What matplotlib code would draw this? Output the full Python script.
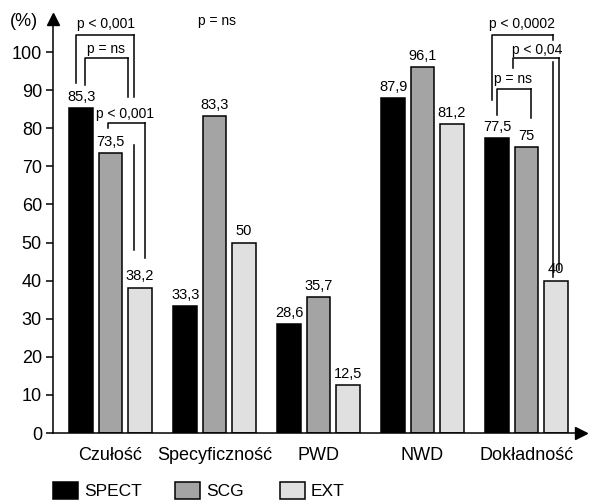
import matplotlib.pyplot as plt
from matplotlib.patches import Rectangle

plt.rcParams['font.family'] = ['Liberation Sans', 'DejaVu Sans']

categories = ['Czułość', 'Specyficzność', 'PWD', 'NWD', 'Dokładność']
series_names = ['SPECT', 'SCG', 'EXT']
spect = [85.3, 33.3, 28.6, 87.9, 77.5]
scg = [73.5, 83.3, 35.7, 96.1, 75]
ext = [38.2, 50, 12.5, 81.2, 40]
colors = ['#000000', '#a4a4a4', '#e0e0e0']

# significance brackets: x left, x right, top, left leg end, right leg end, gap on right leg
brackets = [
    (-0.330, 0.226, 104.5, 91.9, 48.0, (88.2, 75.6)),
    (-0.245, 0.168, 98.4, 91.3, 88.2, None),
    (-0.024, 0.332, 81.4, 80.0, 45.9, None),
    (3.671, 4.252, 104.5, 87.4, 40.9, (103.1, 97.4)),
    (3.867, 4.315, 98.4, 95.8, 42.8, None),
    (3.719, 4.040, 90.3, 83.5, 82.7, None),
]
p_labels = [
    (-0.043, 106.3, 'p < 0,001'),
    (-0.043, 99.7, 'p = ns'),
    (0.135, 82.7, 'p < 0,001'),
    (1.02, 107.1, 'p = ns'),
    (3.957, 106.3, 'p < 0,0002'),
    (4.106, 99.5, 'p < 0,04'),
    (3.870, 91.9, 'p = ns'),
]

fig = plt.figure(figsize=(5.9, 5.04), dpi=100)
ax = fig.add_axes([53 / 590, 71 / 504, 528 / 590, 414 / 504])

step = 0.28
width = 0.23
for j, vals in enumerate([spect, scg, ext]):
    xs = [i + (j - 1) * step for i in range(len(categories))]
    ax.bar(xs, vals, width=width, color=colors[j], edgecolor='black', linewidth=1.1, zorder=2)
    for x, v in zip(xs, vals):
        ax.annotate(f"{v:g}".replace('.', ','), (x, v), xytext=(0, 3), textcoords='offset points',
                    ha='center', va='bottom', fontsize=10.5)

for xl, xr, top, yl, yr, gap in brackets:
    ax.plot([xl, xl, xr], [yl, top, top], color='black', lw=1.1, clip_on=False)
    if gap is None:
        ax.plot([xr, xr], [top, yr], color='black', lw=1.1, clip_on=False)
    else:
        ax.plot([xr, xr], [top, gap[0]], color='black', lw=1.1, clip_on=False)
        ax.plot([xr, xr], [gap[1], yr], color='black', lw=1.1, clip_on=False)

for x, y, t in p_labels:
    ax.text(x, y, t, ha='center', va='baseline', fontsize=10)

ax.set_xlim(-0.553, 4.524)
ax.set_ylim(0, 108.7)
ax.set_yticks(range(0, 101, 10))
ax.tick_params(axis='y', direction='out', length=5, width=1.1, labelsize=13, pad=3)
ax.set_xticks(range(len(categories)))
ax.set_xticklabels(categories, fontsize=13)
ax.tick_params(axis='x', length=0, pad=10)
for s in ['top', 'right']:
    ax.spines[s].set_visible(False)
ax.spines['left'].set_linewidth(1.1)
ax.spines['bottom'].set_linewidth(1.1)
ax.plot(0, 1, marker='^', markersize=9, color='black', transform=ax.transAxes, clip_on=False)
ax.plot(1, 0, marker='>', markersize=9, color='black', transform=ax.transAxes, clip_on=False)
fig.text(10 / 590, 1 - 22 / 504, '(%)', fontsize=13, va='center', ha='left')

# legend
leg_x = [53, 175, 280]
for j, name in enumerate(series_names):
    fig.add_artist(Rectangle((leg_x[j] / 590, 1 - 499 / 504), 25 / 590, 17 / 504,
                             facecolor=colors[j], edgecolor='black', linewidth=1.1,
                             transform=fig.transFigure))
    fig.text((leg_x[j] + 31) / 590, 1 - 491 / 504, name, fontsize=12.5, va='center', ha='left')

fig.savefig('out.png', dpi=100)
